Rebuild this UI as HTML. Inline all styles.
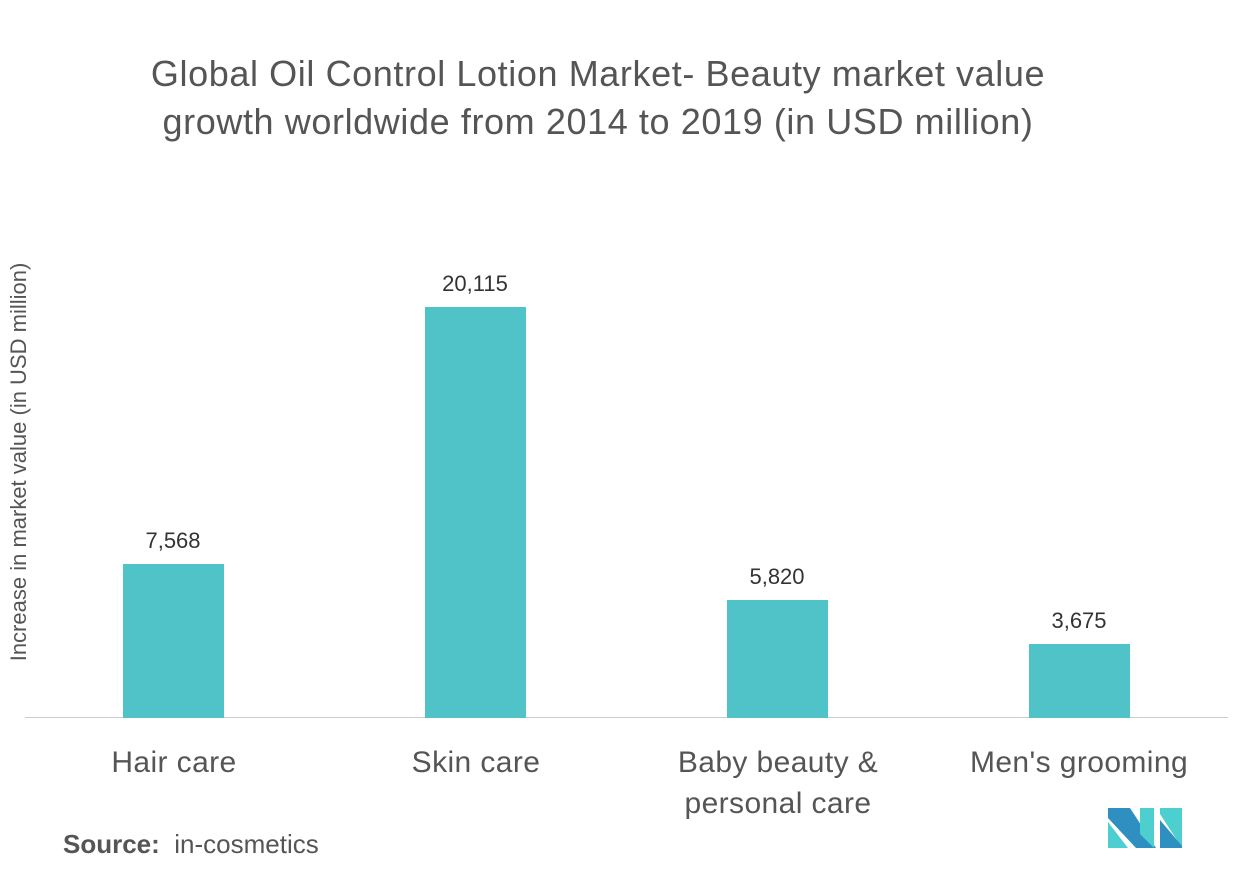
<!DOCTYPE html>
<html><head><style>
body{margin:0;width:1253px;height:880px;background:#fff;position:relative;font-family:"Liberation Sans",sans-serif;overflow:hidden}
.t{position:absolute;left:0;width:1196px;text-align:center;color:#555;font-size:36px;letter-spacing:0.6px;line-height:48px;top:50px}
.bar{position:absolute;background:#50c3c9;width:101px}
.v{position:absolute;width:160px;text-align:center;font-size:22px;color:#333}
.c{position:absolute;width:300px;text-align:center;font-size:30px;color:#555;line-height:41px;letter-spacing:0.4px}
</style></head><body>
<div class="t">Global Oil Control Lotion Market- Beauty market value<br>growth worldwide from 2014 to 2019 (in USD million)</div>
<div style="position:absolute;left:19px;top:462px;transform:translate(-50%,-50%) rotate(-90deg);white-space:nowrap;font-size:22px;color:#555">Increase in market value (in USD million)</div>
<div style="position:absolute;left:25px;top:717px;width:1203px;height:1px;background:#ccc"></div>
<div class="bar" style="left:123px;top:564px;height:154px"></div>
<div class="bar" style="left:425px;top:307px;height:411px"></div>
<div class="bar" style="left:727px;top:600px;height:118px"></div>
<div class="bar" style="left:1029px;top:644px;height:74px"></div>
<div class="v" style="left:93px;top:528px">7,568</div>
<div class="v" style="left:395px;top:271px">20,115</div>
<div class="v" style="left:697px;top:564px">5,820</div>
<div class="v" style="left:999px;top:608px">3,675</div>
<div class="c" style="left:24px;top:742px">Hair care</div>
<div class="c" style="left:326px;top:742px">Skin care</div>
<div class="c" style="left:628px;top:742px">Baby beauty &amp;<br>personal care</div>
<div class="c" style="left:929px;top:742px">Men's grooming</div>
<div style="position:absolute;left:63px;top:829px;font-size:26px;color:#555"><b>Source:</b>&nbsp; in-cosmetics</div>
<svg style="position:absolute;left:1108px;top:808px" width="76" height="42" viewBox="0 0 76 42">
<polygon points="0,0 22,0 48,40 28,40 0,10" fill="#2e8fc0"/>
<polygon points="0,14 0,40 20,40" fill="#4ecfcf"/>
<polygon points="32,26 32,0 46,0 46,20 46,40" fill="#4ecfcf"/>
<polygon points="52,0 74,0 74,40 52,6" fill="#4ecfcf"/>
<polygon points="52,12 52,40 74,40 74,38" fill="#2e8fc0"/>
</svg>
</body></html>
